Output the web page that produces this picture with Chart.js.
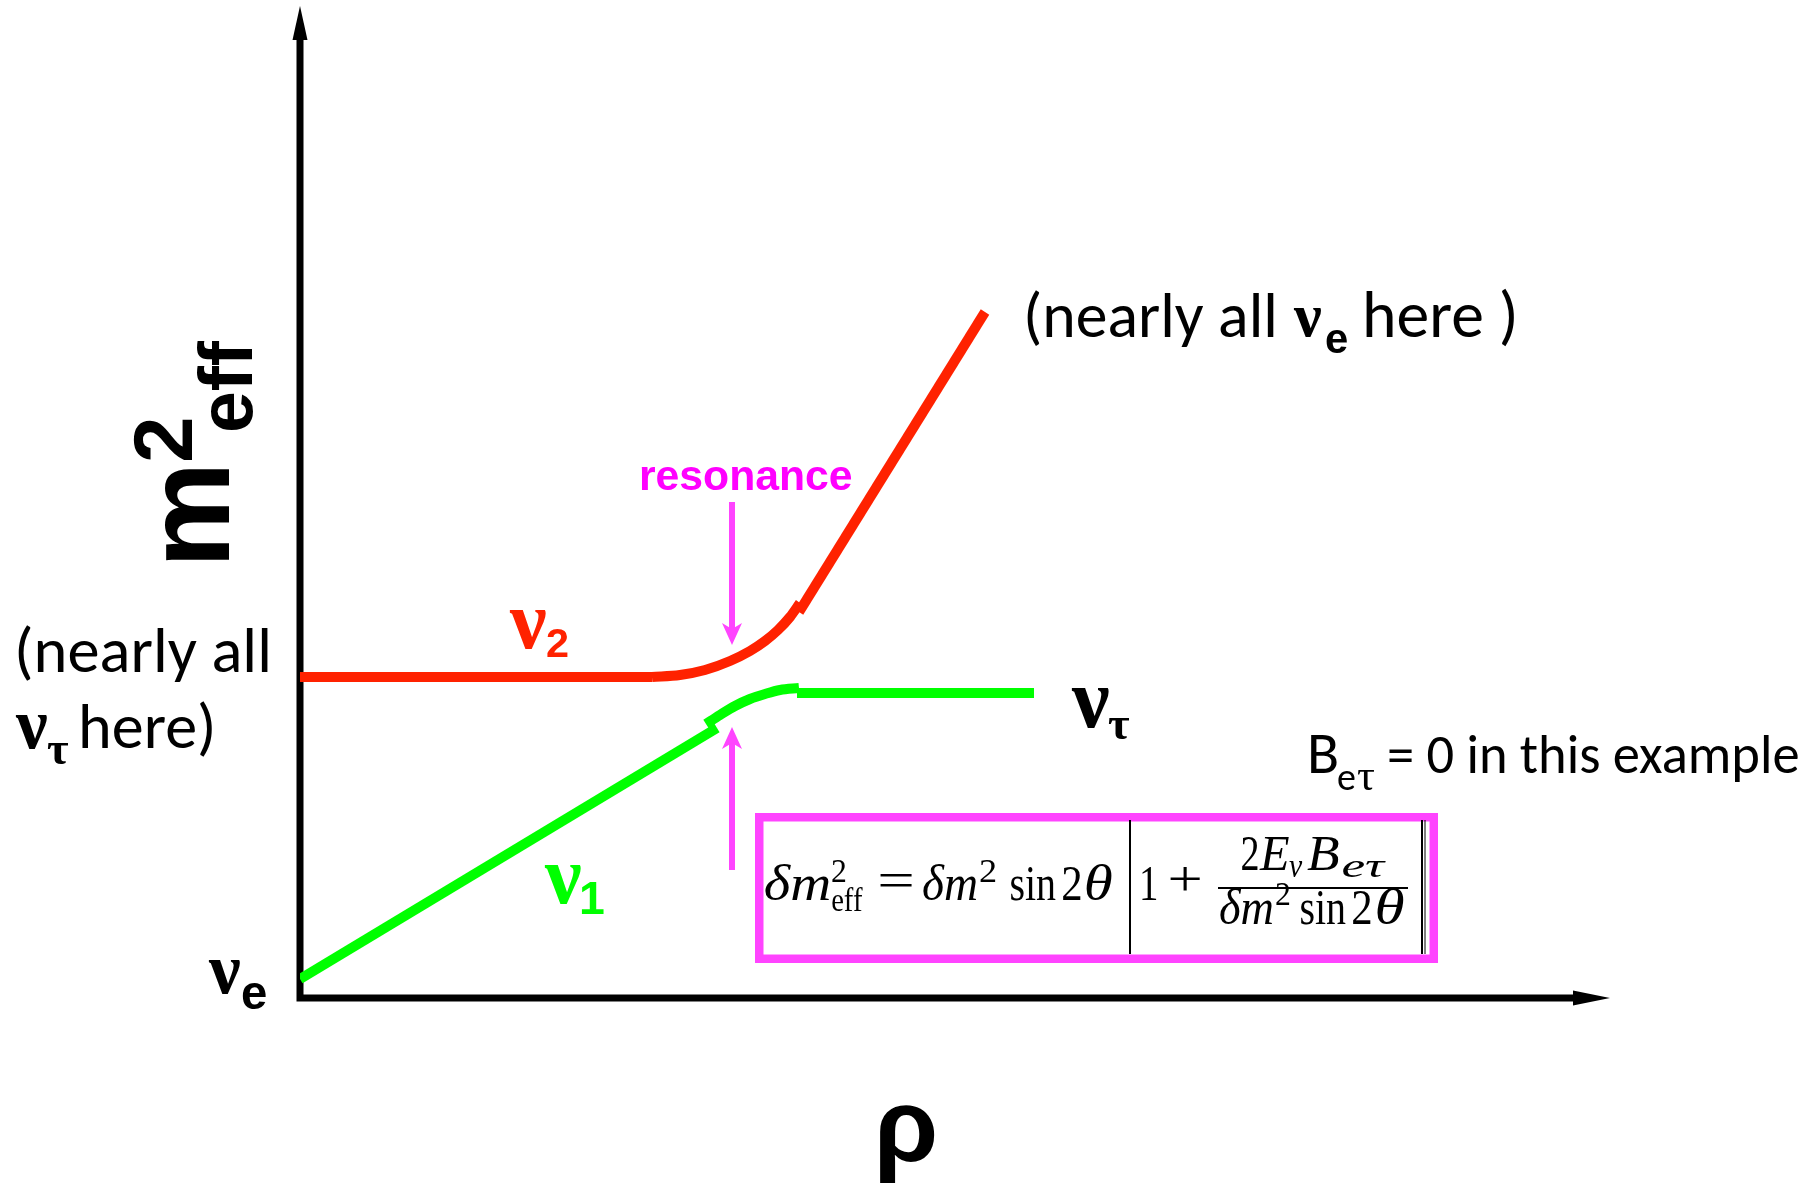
<!DOCTYPE html>
<html>
<head>
<meta charset="utf-8">
<title>Level crossing in matter</title>
<script src="https://cdn.jsdelivr.net/npm/chart.js@4.4.1/dist/chart.umd.min.js"></script>
<style>
  html, body { margin: 0; padding: 0; background: #fff; }
  canvas { display: block; }
</style>
</head>
<body>
<canvas id="levelChart" width="1815" height="1187"></canvas>
<script>
// m^2_eff of the two eigenstates against density (schematic units)
// heavier state: flat, bends at resonance, then rises
const nu2Flat = [[0, 3.21], [3.52, 3.21]];
const nu2Bend = [[3.52, 3.21], [3.80, 3.23], [4.05, 3.28], [4.30, 3.37], [4.50, 3.47],
                 [4.65, 3.57], [4.78, 3.68], [4.90, 3.81], [5.00, 3.95]];
const nu2Rise = [[4.99, 3.86], [6.85, 6.86]];
// lighter state: rises, bends at resonance, then flattens
const nu1Rise = [[0, 0.19], [4.17, 2.70]];
const nu1Bend = [[4.06, 2.74], [4.20, 2.83], [4.35, 2.92], [4.50, 2.99], [4.65, 3.04],
                 [4.80, 3.08], [4.99, 3.10]];
const nu1Flat = [[4.97, 3.05], [7.34, 3.05]];

// resonance marker: density and arrow ends
const resonanceX = 4.32;
const downArrow = [4.96, 3.53];
const upArrow = [1.28, 2.71];

const RED = '#ff2200';
const GREEN = '#00ff00';
const PINK = '#ff44ff';
const SANS = '"Liberation Sans", Arial, sans-serif';
const SERIF = '"Liberation Serif", "Times New Roman", serif';
const BODY = 'Carlito, Calibri, Lato, sans-serif';

function segment(points, color, curved) {
    return {
        data: points.map(p => ({ x: p[0], y: p[1] })),
        borderColor: color,
        borderWidth: 10,
        borderCapStyle: 'butt',
        pointRadius: 0,
        fill: false,
        cubicInterpolationMode: curved ? 'monotone' : 'default',
        tension: 0
    };
}

// draw text scaled so its ink spans left..right, sitting on baseline
function fitText(ctx, text, weight, family, left, right, baseline) {
    ctx.font = `${weight} 100px ${family}`;
    let m = ctx.measureText(text);
    const size = 100 * (right - left) / (m.actualBoundingBoxLeft + m.actualBoundingBoxRight);
    ctx.font = `${weight} ${size}px ${family}`;
    m = ctx.measureText(text);
    ctx.fillText(text, left + m.actualBoundingBoxLeft, baseline);
}

// draw text sized so its ink spans top..bottom, starting at left
function fitHeight(ctx, text, weight, family, left, top, bottom) {
    ctx.font = `${weight} 100px ${family}`;
    let m = ctx.measureText(text);
    const size = 100 * (bottom - top) / (m.actualBoundingBoxAscent + m.actualBoundingBoxDescent);
    ctx.font = `${weight} ${size}px ${family}`;
    m = ctx.measureText(text);
    ctx.fillText(text, left + m.actualBoundingBoxLeft, bottom - m.actualBoundingBoxDescent);
}

// draw text at a fixed size, stretched sideways to span left..right
function stretchText(ctx, text, font, left, right, baseline) {
    ctx.font = font;
    const m = ctx.measureText(text);
    const sx = (right - left) / (m.actualBoundingBoxLeft + m.actualBoundingBoxRight);
    ctx.save();
    ctx.translate(left, baseline);
    ctx.scale(sx, 1);
    ctx.fillText(text, m.actualBoundingBoxLeft, 0);
    ctx.restore();
}

function arrow(ctx, x, y0, y1, color) {
    const dir = Math.sign(y1 - y0);
    ctx.strokeStyle = color;
    ctx.fillStyle = color;
    ctx.lineWidth = 6;
    ctx.beginPath();
    ctx.moveTo(x, y0);
    ctx.lineTo(x, y1 - dir * 14);
    ctx.stroke();
    ctx.beginPath();
    ctx.moveTo(x, y1);
    ctx.lineTo(x - 10, y1 - dir * 22);
    ctx.lineTo(x, y1 - dir * 16);
    ctx.lineTo(x + 10, y1 - dir * 22);
    ctx.closePath();
    ctx.fill();
}

const axesPlugin = {
    id: 'axes',
    beforeDatasetsDraw(chart) {
        const { ctx, chartArea: a } = chart;
        ctx.save();
        ctx.strokeStyle = '#000';
        ctx.fillStyle = '#000';
        ctx.lineWidth = 7;
        ctx.beginPath();
        ctx.moveTo(a.left, a.bottom + 3.5);
        ctx.lineTo(a.left, a.top + 28);
        ctx.moveTo(a.left - 3.5, a.bottom);
        ctx.lineTo(a.right - 24, a.bottom);
        ctx.stroke();
        ctx.beginPath();
        ctx.moveTo(a.left, a.top - 2);
        ctx.lineTo(a.left - 7.5, a.top + 32);
        ctx.lineTo(a.left + 7.5, a.top + 32);
        ctx.closePath();
        ctx.fill();
        ctx.beginPath();
        ctx.moveTo(a.right + 10, a.bottom);
        ctx.lineTo(a.right - 27, a.bottom - 7.5);
        ctx.lineTo(a.right - 27, a.bottom + 7.5);
        ctx.closePath();
        ctx.fill();
        ctx.restore();
    }
};

const notesPlugin = {
    id: 'notes',
    afterDatasetsDraw(chart) {
        const { ctx } = chart;
        const xs = chart.scales.x, ys = chart.scales.y;
        ctx.save();
        ctx.textAlign = 'left';
        ctx.textBaseline = 'alphabetic';

        // resonance label and arrows
        const rx = xs.getPixelForValue(resonanceX);
        ctx.fillStyle = '#ff00ff';
        fitText(ctx, 'resonance', 'bold', SANS, 641, 851, 490);
        arrow(ctx, rx, ys.getPixelForValue(downArrow[0]), ys.getPixelForValue(downArrow[1]), PINK);
        arrow(ctx, rx, ys.getPixelForValue(upArrow[0]), ys.getPixelForValue(upArrow[1]), PINK);

        // axis titles
        ctx.fillStyle = '#000';
        ctx.save();
        ctx.translate(229, 561);
        ctx.rotate(-Math.PI / 2);
        fitText(ctx, 'm', 'bold', SANS, 0, 92, 0);
        fitText(ctx, '2', 'bold', SANS, 100, 141, -37);
        fitText(ctx, 'eff', 'bold', SANS, 130, 220, 23);
        ctx.restore();
        fitText(ctx, 'ρ', 'bold', SANS, 880, 935, 1161);

        // state labels
        ctx.fillStyle = RED;
        fitText(ctx, 'ν', 'bold', SERIF, 509, 546, 648);
        fitHeight(ctx, '2', 'bold', SANS, 547, 628, 657);
        ctx.fillStyle = GREEN;
        fitText(ctx, 'ν', 'bold', SERIF, 544, 581, 903);
        fitHeight(ctx, '1', 'bold', SANS, 581, 882, 914);
        ctx.fillStyle = '#000';
        fitText(ctx, 'ν', 'bold', SERIF, 1071, 1109, 727);
        fitHeight(ctx, 'τ', 'bold', SERIF, 1108, 717, 739);
        fitText(ctx, 'ν', 'bold', SERIF, 208, 240, 993);
        fitHeight(ctx, 'e', 'bold', SANS, 242, 983, 1009);

        // flavour content notes
        fitText(ctx, '(nearly all', 'normal', BODY, 18, 267, 672);
        fitText(ctx, 'ν', 'bold', SERIF, 15, 47, 748);
        fitHeight(ctx, 'τ', 'bold', SERIF, 47, 742, 764);
        fitText(ctx, 'here)', 'normal', BODY, 82, 212, 748);

        fitText(ctx, '(nearly all', 'normal', BODY, 1027, 1273, 337);
        fitText(ctx, 'ν', 'bold', SERIF, 1293, 1321, 336);
        fitHeight(ctx, 'e', 'bold', SANS, 1326, 330, 353);
        fitText(ctx, 'here )', 'normal', BODY, 1366, 1514, 337);

        fitText(ctx, 'B', 'normal', BODY, 1311, 1337, 773);
        fitHeight(ctx, 'e', 'normal', BODY, 1338, 771, 790);
        fitHeight(ctx, 'τ', 'normal', SERIF, 1357, 769, 790);
        fitText(ctx, '= 0 in this example', 'normal', BODY, 1389, 1798, 773);

        // formula box
        ctx.strokeStyle = PINK;
        ctx.lineWidth = 8.5;
        ctx.strokeRect(759.25, 817.25, 674.5, 141.5);

        const M = `italic 50px ${SERIF}`, R = `50px ${SERIF}`;
        const Ms = `italic 34px ${SERIF}`, Rs = `34px ${SERIF}`;
        ctx.fillStyle = '#000';
        stretchText(ctx, 'δm', M, 765, 830, 900);
        stretchText(ctx, '2', Rs, 832, 846, 882);
        stretchText(ctx, 'eff', Rs, 832, 863, 911);
        stretchText(ctx, '=', R, 880, 912, 897);
        stretchText(ctx, 'δm', M, 923, 977, 900);
        stretchText(ctx, '2', Rs, 980, 996, 882);
        stretchText(ctx, 'sin', R, 1011, 1056, 900);
        stretchText(ctx, '2', R, 1063, 1081, 900);
        stretchText(ctx, 'θ', M, 1086, 1112, 900);

        stretchText(ctx, '1', R, 1142, 1156, 900);
        stretchText(ctx, '+', R, 1170, 1200, 896);
        stretchText(ctx, '2', R, 1242, 1258, 870);
        stretchText(ctx, 'E', M, 1259, 1289, 870);
        stretchText(ctx, 'ν', Ms, 1289, 1303, 877);
        stretchText(ctx, 'B', M, 1307, 1339, 870);
        stretchText(ctx, 'eτ', Ms, 1343, 1387, 877);
        stretchText(ctx, 'δm', M, 1220, 1273, 924);
        stretchText(ctx, '2', Rs, 1276, 1290, 905);
        stretchText(ctx, 'sin', R, 1301, 1346, 924);
        stretchText(ctx, '2', R, 1353, 1371, 924);
        stretchText(ctx, 'θ', M, 1377, 1404, 924);

        ctx.strokeStyle = '#000';
        ctx.lineWidth = 2;
        ctx.beginPath();
        ctx.moveTo(1218, 888);
        ctx.lineTo(1408, 888);
        ctx.moveTo(1130, 820);
        ctx.lineTo(1130, 954);
        ctx.moveTo(1422, 820);
        ctx.lineTo(1422, 954);
        ctx.stroke();
        ctx.lineWidth = 1;
        ctx.beginPath();
        ctx.moveTo(1425, 820);
        ctx.lineTo(1425, 954);
        ctx.stroke();

        ctx.restore();
    }
};

const ctx = document.getElementById('levelChart').getContext('2d');
new Chart(ctx, {
    type: 'line',
    data: {
        datasets: [
            segment(nu2Flat, RED, false),
            segment(nu2Bend, RED, true),
            segment(nu2Rise, RED, false),
            segment(nu1Rise, GREEN, false),
            segment(nu1Bend, GREEN, true),
            segment(nu1Flat, GREEN, false)
        ]
    },
    options: {
        responsive: false,
        animation: false,
        layout: { padding: { left: 300, right: 215, top: 8, bottom: 189 } },
        plugins: {
            legend: { display: false },
            tooltip: { enabled: false }
        },
        scales: {
            x: { type: 'linear', min: 0, max: 13, display: false },
            y: { type: 'linear', min: 0, max: 9.9, display: false }
        }
    },
    plugins: [axesPlugin, notesPlugin]
});
</script>
</body>
</html>
